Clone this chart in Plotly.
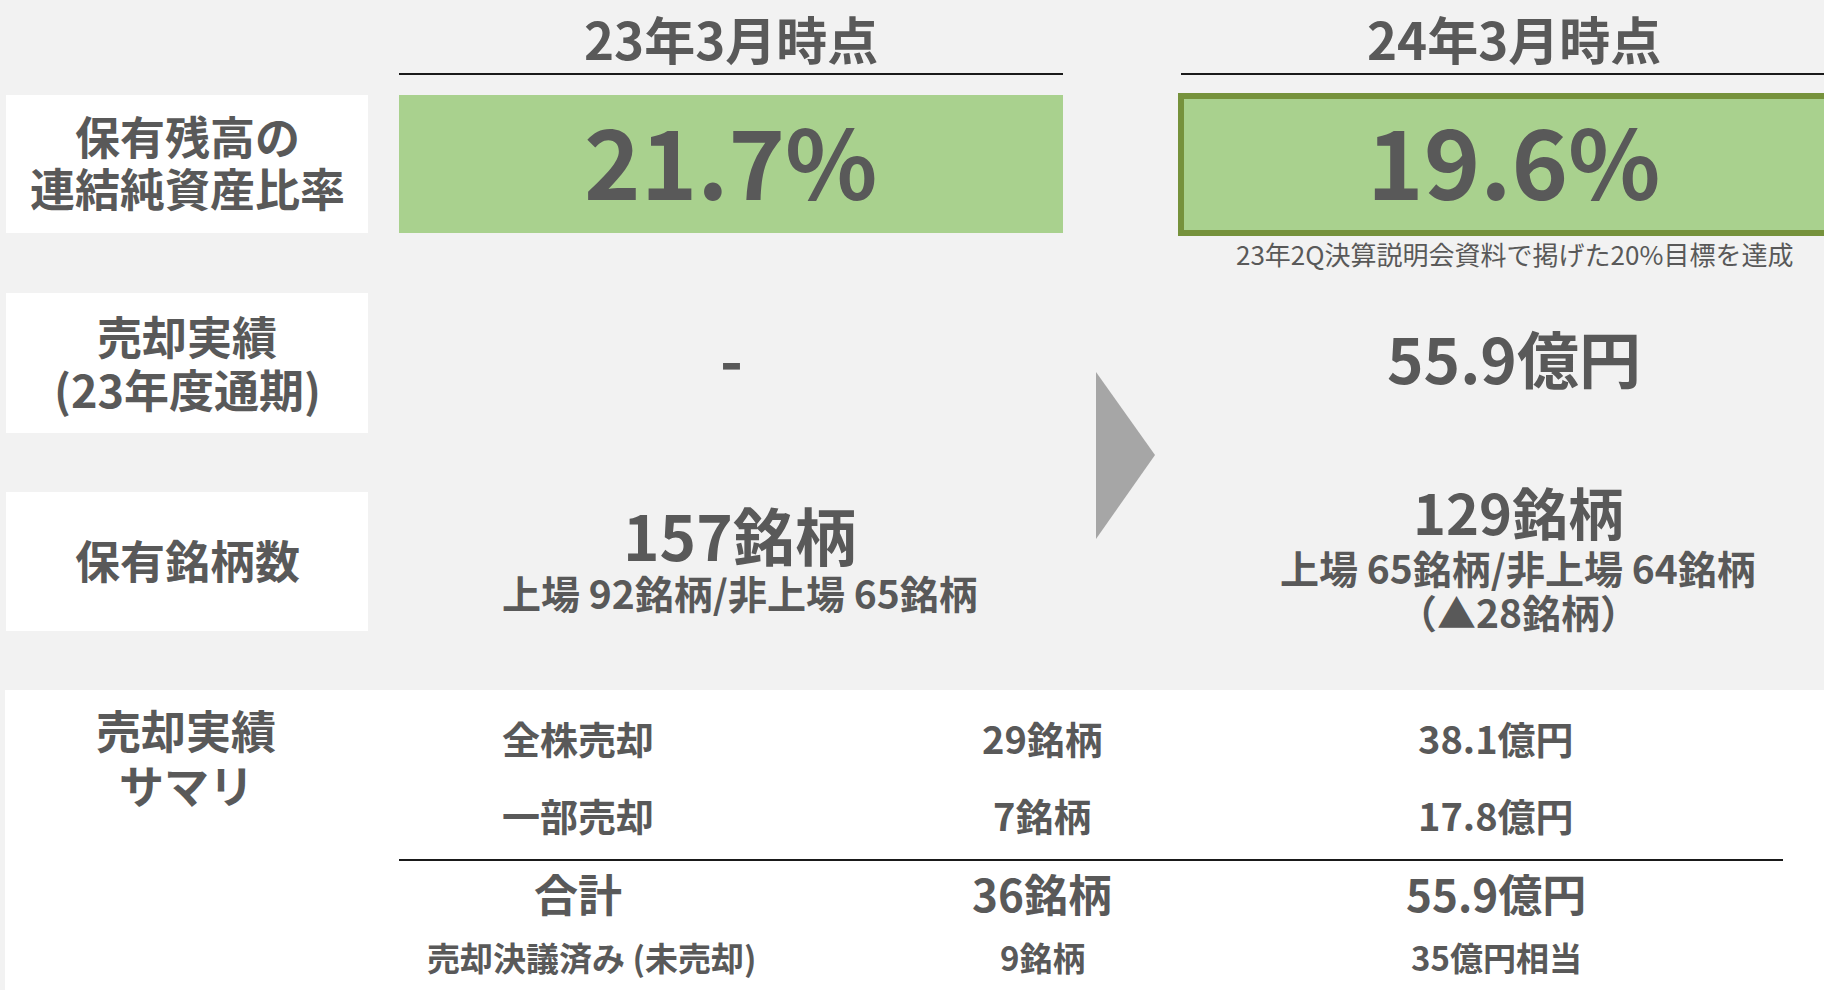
import plotly.graph_objects as go

# ---------------- data ----------------
period_headers = ["23年3月時点", "24年3月時点"]
ratio_pct = [21.7, 19.6]                      # 保有残高の連結純資産比率 (%)
target_note = "23年2Q決算説明会資料で掲げた20%目標を達成"
sales_oku = [None, 55.9]                      # 売却実績 (23年度通期), 億円
holdings_total = [157, 129]                   # 保有銘柄数
holdings_listed = [92, 65]
holdings_unlisted = [65, 64]
holdings_change = [None, -28]

row_labels = [["保有残高の", "連結純資産比率"],
              ["売却実績", "(23年度通期)"],
              ["保有銘柄数"]]

summary_title = ["売却実績", "サマリ"]
summary_categories = ["全株売却", "一部売却", "合計", "売却決議済み (未売却)"]
summary_counts = [29, 7, 36, 9]               # 銘柄
summary_amounts = ["38.1億円", "17.8億円", "55.9億円", "35億円相当"]

# ---------------- style / layout ----------------
W, H = 1824, 990
BG = "#F2F2F2"
TXT = "#595959"
GREEN = "#A9D18E"
GREEN_DARK = "#76923C"
FONT = "Noto Sans CJK JP"

col_x = [731, 1514]          # centers of the two period columns
col_span = [(399, 1063), (1181, 1824)]
label_x = (6, 368)

fig = go.Figure()
fig.add_trace(go.Scatter(x=[0, W], y=[0, H], mode="markers",
                         marker=dict(opacity=0), hoverinfo="skip", showlegend=False))

shapes = []
ann = []


def text(x, y, s, size, bold=True, color=TXT):
    ann.append(dict(x=x, y=y, xref="x", yref="y", text=s, showarrow=False,
                    xanchor="center", yanchor="middle",
                    font=dict(family=FONT, size=size, color=color,
                              weight=700 if bold else 400)))


def rect(x0, y0, x1, y1, fill, line_color=None, line_width=0):
    shapes.append(dict(type="rect", xref="x", yref="y", x0=x0, y0=y0, x1=x1, y1=y1,
                       fillcolor=fill, layer="below",
                       line=dict(color=line_color or fill, width=line_width)))


# headers + rules
for i, h in enumerate(period_headers):
    text(col_x[i], 38, h, 51)
    shapes.append(dict(type="line", xref="x", yref="y", x0=col_span[i][0], x1=col_span[i][1],
                       y0=74, y1=74, line=dict(color="#1a1a1a", width=2)))

# row label boxes
label_boxes = [(95, 233), (293, 433), (492, 631)]
label_lines_y = [[135, 187], [335, 388], [559]]
for (y0, y1), lines, ys in zip(label_boxes, row_labels, label_lines_y):
    rect(label_x[0], y0, label_x[1], y1, "white")
    for s, yy in zip(lines, ys):
        text((label_x[0] + label_x[1]) / 2, yy, s, 45)

# ratio boxes
rect(399, 95, 1063, 233, GREEN)
rect(1181, 96, 1840, 233, GREEN, GREEN_DARK, 6)
for i, v in enumerate(ratio_pct):
    text(col_x[i], 158, f"{v:.1f}%", 96)
text(1514, 253, target_note, 26, bold=False)

# sales
for i, v in enumerate(sales_oku):
    text(col_x[i], 357, "-" if v is None else f"{v:.1f}億円", 62)

# arrow
shapes.append(dict(type="path", xref="x", yref="y",
                   path="M 1096 372 L 1155 455 L 1096 539 Z",
                   fillcolor="#A6A6A6", line=dict(width=0)))

# holdings
hold_y = [[534, 592, None], [510, 567, 611]]
hold_x = [740, 1518]
hold_size = [62, 56]
for i in range(2):
    ys = hold_y[i]
    text(hold_x[i], ys[0], f"{holdings_total[i]}銘柄", hold_size[i])
    text(hold_x[i], ys[1], f"上場 {holdings_listed[i]}銘柄/非上場 {holdings_unlisted[i]}銘柄", 39)
    if holdings_change[i] is not None:
        text(hold_x[i], ys[2], f"（▲{abs(holdings_change[i])}銘柄）", 39)

# summary panel
rect(5, 690, 1840, 1000, "white")
text(186, 729, summary_title[0], 45)
text(186, 784, summary_title[1], 45)
sum_y = [737, 814, 893, 957]
sum_size = [38, 38, 44, 33]
cat_x = [578, 578, 578, 591]
for k in range(4):
    text(cat_x[k], sum_y[k], summary_categories[k], sum_size[k])
    text(1042, sum_y[k], f"{summary_counts[k]}銘柄", sum_size[k])
    text(1496, sum_y[k], summary_amounts[k], sum_size[k])
shapes.append(dict(type="line", xref="x", yref="y", x0=399, x1=1783, y0=860, y1=860,
                   line=dict(color="#1a1a1a", width=2)))

fig.update_layout(
    width=W, height=H, margin=dict(l=0, r=0, t=0, b=0),
    paper_bgcolor=BG, plot_bgcolor=BG,
    xaxis=dict(range=[0, W], visible=False, fixedrange=True),
    yaxis=dict(range=[H, 0], visible=False, fixedrange=True),
    shapes=shapes, annotations=ann, showlegend=False,
)
fig.write_html("out.html", config={"displayModeBar": False},
               post_script="document.body.style.margin='0';"
                           "document.body.style.background='#F2F2F2';"
                           "document.body.style.overflow='hidden';")
